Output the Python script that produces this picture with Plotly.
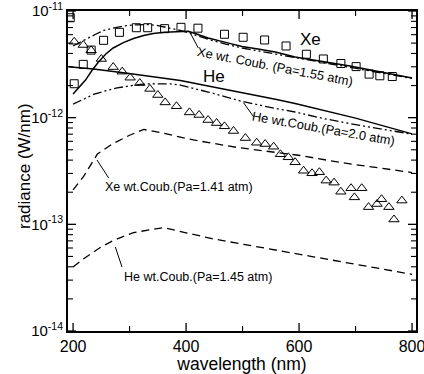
import plotly.graph_objects as go

# ---- data ----
xe_exp_wl = [195, 202, 218, 232, 254, 282, 312, 332, 362, 391, 421, 468, 501, 539, 577, 613, 643, 674, 701, 724, 743, 765]
xe_exp_rad = [8.65e-12, 2.08e-12, 3.16e-12, 4.3e-12, 5.31e-12, 6.31e-12, 6.97e-12, 6.97e-12, 6.83e-12, 7.03e-12, 6.90e-12,
              6.05e-12, 5.67e-12, 5.35e-12, 4.70e-12, 3.93e-12, 3.55e-12, 3.22e-12, 3.01e-12, 2.56e-12, 2.47e-12, 2.43e-12]

he_exp_wl = [202, 218, 232, 250, 271, 287, 301, 318, 336, 350, 363, 383, 406, 423, 439, 454, 468, 484, 505, 525,
             540, 555, 567, 581, 593, 608, 623, 636, 648, 662, 674, 692, 698, 711, 723, 738, 746, 759, 768, 782]
he_exp_rad = [5.15e-12, 4.80e-12, 4.28e-12, 3.55e-12, 2.98e-12, 2.70e-12, 2.37e-12, 2.11e-12, 1.86e-12, 1.63e-12,
              1.39e-12, 1.28e-12, 1.12e-12, 1.06e-12, 9.5e-13, 8.9e-13, 8.3e-13, 7.5e-13, 6.44e-13, 5.82e-13,
              5.66e-13, 5.34e-13, 4.54e-13, 4.25e-13, 3.82e-13, 3.18e-13, 3.01e-13, 3.08e-13, 2.57e-13, 2.46e-13,
              2.02e-13, 2.18e-13, 1.79e-13, 2.18e-13, 1.45e-13, 1.55e-13, 1.72e-13, 1.45e-13, 1.11e-13, 1.67e-13]

xe_sim_wl = [200, 211, 222, 233, 245, 258, 271, 289, 307, 325, 342, 362, 381, 404, 420, 439, 470, 499, 530, 558, 593, 640, 690, 745, 800]
xe_sim_rad = [1.67e-12, 1.95e-12, 2.25e-12, 2.75e-12, 3.33e-12, 3.95e-12, 4.50e-12, 5.05e-12, 5.52e-12, 5.88e-12,
              6.15e-12, 6.32e-12, 6.42e-12, 6.45e-12, 6.05e-12, 5.58e-12, 5.08e-12, 4.65e-12, 4.38e-12, 4.13e-12,
              3.70e-12, 3.38e-12, 3.05e-12, 2.68e-12, 2.35e-12]

xe_coub155_wl = [200, 212, 225, 240, 254, 275, 296, 313, 331, 350, 367, 390, 416, 443, 470, 499, 558, 602, 690, 800]
xe_coub155_rad = [4.70e-12, 5.10e-12, 5.52e-12, 6.05e-12, 6.57e-12, 7.00e-12, 7.31e-12, 7.42e-12, 7.47e-12, 7.30e-12,
                  7.00e-12, 6.57e-12, 5.95e-12, 5.35e-12, 4.90e-12, 4.50e-12, 3.95e-12, 3.59e-12, 2.98e-12, 2.33e-12]

he_sim_wl = [192, 236, 296, 354, 390, 439, 499, 558, 593, 700, 800]
he_sim_rad = [3.00e-12, 2.86e-12, 2.61e-12, 2.37e-12, 2.23e-12, 1.98e-12, 1.73e-12, 1.49e-12, 1.36e-12, 9.9e-13, 7.05e-13]

he_coub20_wl = [200, 218, 236, 257, 278, 299, 319, 337, 354, 372, 390, 415, 439, 470, 499, 558, 593, 643, 708, 800]
he_coub20_rad = [1.34e-12, 1.50e-12, 1.65e-12, 1.78e-12, 1.90e-12, 1.98e-12, 2.05e-12, 2.08e-12, 2.09e-12, 2.07e-12,
                 2.02e-12, 1.88e-12, 1.74e-12, 1.57e-12, 1.42e-12, 1.22e-12, 1.13e-12, 9.82e-13, 8.45e-13, 7.0e-13]

xe_coub141_wl = [200, 218, 243, 271, 301, 325, 354, 413, 491, 602, 673, 800]
xe_coub141_rad = [2.10e-13, 2.78e-13, 4.56e-13, 5.73e-13, 6.88e-13, 7.75e-13, 7.26e-13, 6.18e-13, 5.25e-13,
                  4.42e-13, 3.80e-13, 3.06e-13]

he_coub145_wl = [200, 218, 248, 271, 307, 360, 402, 446, 623, 800]
he_coub145_rad = [3.98e-14, 4.73e-14, 6.06e-14, 7.05e-14, 8.37e-14, 9.33e-14, 8.29e-14, 7.33e-14, 4.99e-14, 3.40e-14]

# ---- axes / ticks ----
y_tickvals = [1e-14, 1e-13, 1e-12, 1e-11]
y_ticktext = ["10<sup>-14</sup>", "10<sup>-13</sup>", "10<sup>-12</sup>", "10<sup>-11</sup>"]
y_minorvals = [m * 10.0 ** e for e in (-14, -13, -12) for m in range(2, 10)]
x_tickvals = [200, 400, 600, 800]
x_minorvals = [300, 500, 700]

FONT = "Liberation Sans, Arial, Helvetica, sans-serif"
DASHDOT2 = "9px,3px,2px,3px,2px,3px"
DASH = "8px,5px"
XR = [191, 807]
YR = [-14, -11]
W, H = 424, 374
ML, MR, MT, MB = 68, 8, 11, 43
PW, PH = W - ML - MR, H - MT - MB
NM_PER_PX = (XR[1] - XR[0]) / PW
DEC_PER_PX = (YR[1] - YR[0]) / PH

fig = go.Figure()

line_traces = [
    (xe_sim_wl, xe_sim_rad, 1.5, "solid"),
    (xe_coub155_wl, xe_coub155_rad, 1.3, DASHDOT2),
    (he_sim_wl, he_sim_rad, 1.5, "solid"),
    (he_coub20_wl, he_coub20_rad, 1.3, DASHDOT2),
    (xe_coub141_wl, xe_coub141_rad, 1.3, DASH),
    (he_coub145_wl, he_coub145_rad, 1.3, DASH),
]
for xs, ys, w, d in line_traces:
    fig.add_trace(go.Scatter(x=xs, y=ys, mode="lines", hoverinfo="skip",
                             line=dict(color="black", width=w, dash=d)))

fig.add_trace(go.Scatter(x=xe_exp_wl, y=xe_exp_rad, mode="markers",
                         marker=dict(symbol="square-open", size=8, color="black", line=dict(width=1))))
fig.add_trace(go.Scatter(x=he_exp_wl, y=he_exp_rad, mode="markers",
                         marker=dict(symbol="triangle-up-open", size=9, color="black", line=dict(width=1))))

# tick marks drawn inside the frame, at tick values, on all four sides
def x_ticks(vals, length_px):
    xs, ys = [], []
    dl = length_px * DEC_PER_PX
    for v in vals:
        xs += [v, v, None, v, v, None]
        ys += [10 ** YR[0], 10 ** (YR[0] + dl), None, 10 ** YR[1], 10 ** (YR[1] - dl), None]
    return xs, ys

def y_ticks(vals, length_px):
    xs, ys = [], []
    dn = length_px * NM_PER_PX
    for v in vals:
        xs += [XR[0], XR[0] + dn, None, XR[1], XR[1] - dn, None]
        ys += [v, v, None, v, v, None]
    return xs, ys

for (xs, ys), w in [(x_ticks(x_tickvals, 8), 1.3), (x_ticks(x_minorvals, 5), 1.1),
                    (y_ticks(y_tickvals, 8), 1.3), (y_ticks(y_minorvals, 5), 1.1)]:
    fig.add_trace(go.Scatter(x=xs, y=ys, mode="lines", hoverinfo="skip",
                             line=dict(color="black", width=w)))

# leader lines from labels to curves
leader_x = [405.7, 421.6, None, 501.7, 519.4, None, 242.4, 263.0, None, 274.8, 286.6]
leader_y_log = [-11.1875, -11.347, None, -11.8597, -11.991, None, -12.397, -12.566, None, -13.2125, -13.40]
fig.add_trace(go.Scatter(x=leader_x, y=[None if v is None else 10 ** v for v in leader_y_log],
                         mode="lines", hoverinfo="skip", line=dict(color="black", width=1)))

# text labels (positions: x in nm, y in log10 units)
ann = [
    dict(text="Xe", x=619.6, y=-11.2625, size=17, angle=0, xanchor="center"),
    dict(text="He", x=449.9, y=-11.614, size=17, angle=0, xanchor="center"),
    dict(text="Xe wt. Coub. (Pa=1.55 atm)", x=557.7, y=-11.516, size=12.8, angle=11, xanchor="center"),
    dict(text="He wt.Coub.(Pa=2.0 atm)", x=643.5, y=-12.106, size=12.8, angle=10, xanchor="center"),
    dict(text="Xe wt.Coub.(Pa=1.41 atm)", x=253.6, y=-12.650, size=12.5, angle=0, xanchor="left"),
    dict(text="He wt.Coub.(Pa=1.45 atm)", x=286.6, y=-13.494, size=12.5, angle=0, xanchor="left"),
]
for a in ann:
    fig.add_annotation(text=a["text"], x=a["x"], y=a["y"], xref="x", yref="y", showarrow=False,
                       textangle=a["angle"], xanchor=a["xanchor"], yanchor="middle",
                       font=dict(family=FONT, size=a["size"], color="black"))

fig.add_annotation(text="radiance (W/nm)", xref="paper", yref="paper", x=-0.125, y=0.514,
                   showarrow=False, textangle=-90, xanchor="center", yanchor="middle",
                   font=dict(family=FONT, size=17, color="black"))

common = dict(showgrid=False, zeroline=False, automargin=False, ticks="",
              showline=True, linecolor="black", linewidth=2, mirror=True, ticklabeloverflow="allow")

fig.update_layout(
    width=W, height=H,
    margin=dict(l=ML, r=MR, t=MT, b=MB),
    paper_bgcolor="white", plot_bgcolor="white",
    showlegend=False,
    font=dict(family=FONT, color="black"),
    xaxis=dict(range=XR, tickmode="array", tickvals=x_tickvals,
               tickfont=dict(family=FONT, size=16),
               title=dict(text="wavelength (nm)", font=dict(family=FONT, size=17.5)),
               **common),
    yaxis=dict(type="log", range=YR, tickmode="array", tickvals=y_tickvals, ticktext=y_ticktext,
               tickfont=dict(family=FONT, size=15),
               **common),
)

post = """
(function(){
  var st = document.createElement('style');
  st.textContent = 'html, body { margin:0 !important; padding:0 !important; overflow:hidden; } '
                 + 'svg, svg * { shape-rendering: geometricPrecision !important; }';
  document.head.appendChild(st);
})();
"""

fig.write_html("out.html", post_script=post, config={"displayModeBar": False})
